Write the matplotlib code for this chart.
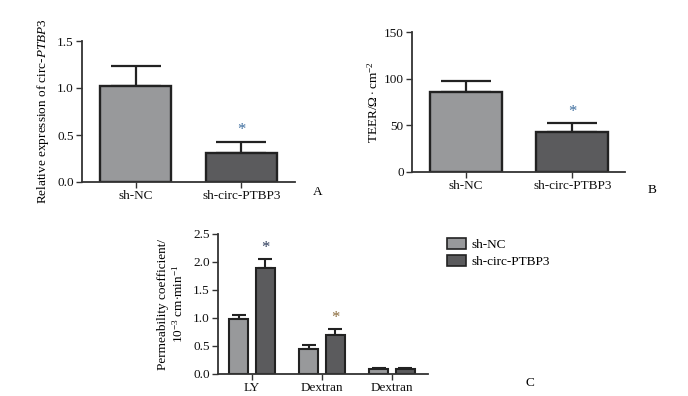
import matplotlib
matplotlib.use("Agg")
import matplotlib.pyplot as plt
from matplotlib.patches import Patch
import numpy as np

plt.rcParams['font.family'] = ['Liberation Serif', 'DejaVu Serif']
plt.rcParams['mathtext.fontset'] = 'custom'
plt.rcParams['mathtext.rm'] = 'Liberation Serif'
plt.rcParams['mathtext.it'] = 'Liberation Serif:italic'

# ---- data ----
groups_ab = ["sh-NC", "sh-circ-PTBP3"]
expr_vals = [1.02, 0.31]
expr_err = [0.21, 0.12]
teer_vals = [86, 43]
teer_err = [11, 9]

c_categories = ["LY", "Dextran", "Dextran"]
c_series = ["sh-NC", "sh-circ-PTBP3"]
perm_nc = [0.98, 0.45, 0.09]
perm_nc_err = [0.07, 0.06, 0.01]
perm_kd = [1.90, 0.70, 0.09]
perm_kd_err = [0.15, 0.10, 0.01]

light = "#98999b"
dark = "#5b5b5d"
edge = "#222222"
star_col = "#3d6d9e"
axc = "#333333"

W, H = 688, 396
fig = plt.figure(figsize=(W / 100, H / 100), dpi=100)


def px_axes(l, t, r, b):
    return fig.add_axes([l / W, 1 - b / H, (r - l) / W, (b - t) / H])


def style(ax):
    for s in ["top", "right"]:
        ax.spines[s].set_visible(False)
    for s in ["left", "bottom"]:
        ax.spines[s].set_color(axc)
        ax.spines[s].set_linewidth(1.3)
    ax.tick_params(axis="both", colors=axc, labelcolor="#111111", labelsize=9.5,
                   length=4, width=1.0, direction="out", pad=2)


# ---- Panel A ----
axA = px_axes(82, 41, 295, 182)
xa = np.arange(len(groups_ab))
axA.bar(xa, expr_vals, width=0.67, color=[light, dark], edgecolor=edge, linewidth=1.7, zorder=2)
axA.errorbar(xa, expr_vals, yerr=[np.zeros(2), expr_err], fmt="none", ecolor=edge,
             elinewidth=1.6, capsize=18, capthick=1.6, zorder=1)
axA.set_xlim(-0.505, 1.505)
axA.set_ylim(0, 1.5)
axA.set_yticks([0, 0.5, 1.0, 1.5])
axA.set_yticklabels(["0.0", "0.5", "1.0", "1.5"])
axA.set_xticks(xa)
axA.set_xticklabels(groups_ab)
axA.set_ylabel(r"Relative expression of circ-$\mathit{PTBP3}$", fontsize=9.5, labelpad=4)
style(axA)
axA.text(1, expr_vals[1] + expr_err[1] + 0.04, "*", ha="center", va="bottom", color=star_col, fontsize=12)
fig.text(318 / W, 1 - 192 / H, "A", fontsize=9.5, ha="center", va="center")

# ---- Panel B ----
axB = px_axes(412, 32, 625, 172)
axB.bar(xa, teer_vals, width=0.676, color=[light, dark], edgecolor=edge, linewidth=1.7, zorder=2)
axB.errorbar(xa, teer_vals, yerr=[np.zeros(2), teer_err], fmt="none", ecolor=edge,
             elinewidth=1.6, capsize=18, capthick=1.6, zorder=1)
axB.set_xlim(-0.507, 1.493)
axB.set_ylim(0, 150)
axB.set_yticks([0, 50, 100, 150])
axB.set_xticks(xa)
axB.set_xticklabels(groups_ab)
axB.set_ylabel(r"TEER/$\Omega\cdot$cm$^{-2}$", fontsize=9.5, labelpad=2)
style(axB)
axB.text(1, teer_vals[1] + teer_err[1] + 4, "*", ha="center", va="bottom", color=star_col, fontsize=12)
fig.text(652 / W, 1 - 190 / H, "B", fontsize=9.5, ha="center", va="center")

# ---- Panel C ----
axC = px_axes(218, 234, 428, 374)
xc = np.arange(len(c_categories))
off = 0.19
bw = 0.264
axC.bar(xc - off, perm_nc, width=bw, color=light, edgecolor=edge, linewidth=1.5, zorder=2, label=c_series[0])
axC.bar(xc + off, perm_kd, width=bw, color=dark, edgecolor=edge, linewidth=1.5, zorder=2, label=c_series[1])
axC.errorbar(xc - off, perm_nc, yerr=[np.zeros(3), perm_nc_err], fmt="none", ecolor=edge,
             elinewidth=1.5, capsize=5, capthick=1.5, zorder=1)
axC.errorbar(xc + off, perm_kd, yerr=[np.zeros(3), perm_kd_err], fmt="none", ecolor=edge,
             elinewidth=1.5, capsize=5, capthick=1.5, zorder=1)
axC.set_xlim(-0.486, 2.514)
axC.set_ylim(0, 2.5)
axC.set_yticks([0, 0.5, 1.0, 1.5, 2.0, 2.5])
axC.set_yticklabels(["0.0", "0.5", "1.0", "1.5", "2.0", "2.5"])
axC.set_xticks(xc)
axC.set_xticklabels(c_categories)
axC.set_ylabel("Permeability coefficient/\n" + r"10$^{-3}$ cm$\cdot$min$^{-1}$", fontsize=9.5, labelpad=5,
               linespacing=1.2)
style(axC)
axC.text(0 + off, perm_kd[0] + perm_kd_err[0] + 0.05, "*", ha="center", va="bottom", color="#2c3a5a", fontsize=12)
axC.text(1 + off, perm_kd[1] + perm_kd_err[1] + 0.05, "*", ha="center", va="bottom", color="#8a6a3a", fontsize=12)
fig.legend(handles=[Patch(facecolor=light, edgecolor=edge, linewidth=1.2, label=c_series[0]),
                    Patch(facecolor=dark, edgecolor=edge, linewidth=1.2, label=c_series[1])],
           loc="upper left", bbox_to_anchor=(440 / W, 1 - 231 / H), frameon=False, fontsize=9.5,
           handlelength=1.5, handleheight=0.9, handletextpad=0.35, labelspacing=0.3, borderpad=0)
fig.text(530 / W, 1 - 383 / H, "C", fontsize=9.5, ha="center", va="center")

fig.savefig("out.png", dpi=100, facecolor="white")
